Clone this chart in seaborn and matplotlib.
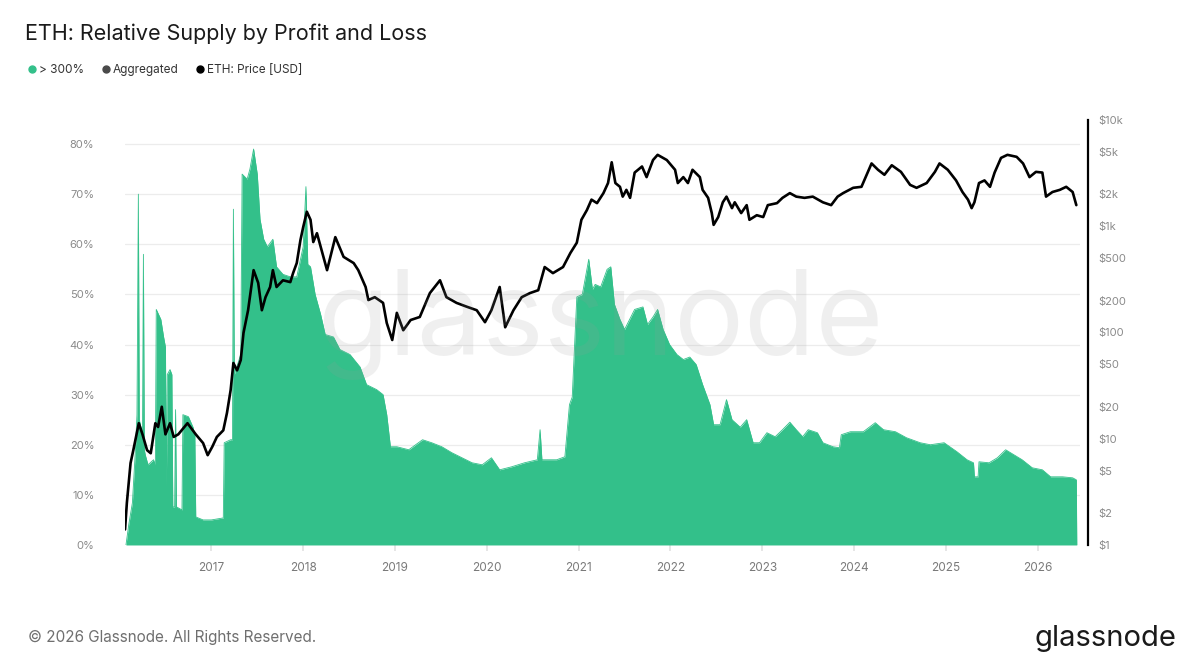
import matplotlib
matplotlib.use("Agg")
import matplotlib.pyplot as plt
import seaborn as sns
import pandas as pd
from matplotlib.lines import Line2D

# share of supply in >300% profit (decimal year, percent)
supply_years = [
    2016.07, 2016.10, 2016.14, 2016.17, 2016.19, 2016.205, 2016.215, 2016.25, 2016.26, 2016.27,
    2016.28, 2016.31, 2016.37, 2016.39, 2016.40, 2016.45, 2016.48, 2016.50, 2016.51, 2016.52,
    2016.55, 2016.57, 2016.58, 2016.60, 2016.61, 2016.62, 2016.68, 2016.69, 2016.75, 2016.80,
    2016.82, 2016.83, 2016.91, 2017.00, 2017.13, 2017.14, 2017.21, 2017.23, 2017.24, 2017.25,
    2017.32, 2017.335, 2017.39, 2017.42, 2017.46, 2017.50, 2017.53, 2017.57, 2017.61, 2017.67,
    2017.71, 2017.78, 2017.86, 2017.93, 2018.00, 2018.03, 2018.05, 2018.08, 2018.13, 2018.19,
    2018.24, 2018.33, 2018.40, 2018.51, 2018.62, 2018.69, 2018.80, 2018.87, 2018.91, 2018.95,
    2019.02, 2019.15, 2019.30, 2019.40, 2019.51, 2019.62, 2019.73, 2019.84, 2019.95, 2020.05,
    2020.14, 2020.27, 2020.41, 2020.55, 2020.58, 2020.60, 2020.76, 2020.85, 2020.90, 2020.93,
    2020.98, 2021.04, 2021.11, 2021.15, 2021.18, 2021.24, 2021.31, 2021.35, 2021.39, 2021.45,
    2021.50, 2021.61, 2021.70, 2021.75, 2021.81, 2021.86, 2021.92, 2021.99, 2022.07, 2022.14,
    2022.21, 2022.28, 2022.35, 2022.43, 2022.47, 2022.54, 2022.61, 2022.67, 2022.76, 2022.83,
    2022.90, 2022.97, 2023.05, 2023.14, 2023.22, 2023.30, 2023.37, 2023.44, 2023.50, 2023.60,
    2023.66, 2023.77, 2023.84, 2023.86, 2023.96, 2024.10, 2024.23, 2024.32, 2024.45, 2024.57,
    2024.72, 2024.83, 2024.98, 2025.12, 2025.23, 2025.30, 2025.31, 2025.35, 2025.36, 2025.47,
    2025.56, 2025.65, 2025.74, 2025.83, 2025.94, 2026.05, 2026.14, 2026.27, 2026.38, 2026.42,
    2026.425,
]
supply_pct = [
    0, 4, 8.4, 18, 26, 70, 25, 22, 58, 19,
    18, 16, 17, 16, 47, 45, 41.5, 39.5, 11.6, 34,
    35, 34, 7.6, 7.6, 27, 7.6, 7, 26, 25.6, 23.5,
    22, 5.6, 5, 5, 5.4, 20.4, 21, 21, 67, 34,
    38, 74, 73, 75, 79, 74, 65, 61, 59.5, 61,
    55.5, 54, 53.5, 53.5, 59.5, 71.5, 56, 55.5, 50, 46,
    42, 41.5, 39, 38, 35.5, 32, 31, 30, 26, 19.6,
    19.6, 19, 21, 20.4, 19.6, 18.4, 17.4, 16.4, 16, 17.4,
    15, 15.6, 16.4, 17, 23, 17, 17, 17.6, 28, 29.5,
    49.5, 50, 57, 51, 52, 51.5, 55, 55.5, 48, 45,
    43, 47, 47.5, 44, 45.5, 47, 43, 40, 38, 37,
    37.5, 36, 32, 28, 24, 24, 29, 25, 23.5, 25,
    20.4, 20.4, 22.4, 21.6, 23, 24.5, 23, 21.6, 23, 22.4,
    20.4, 19.6, 19.4, 22, 22.6, 22.6, 24.4, 23, 22.6, 21.4,
    20.4, 20, 20.4, 18.6, 17, 16.4, 13.6, 13.6, 16.6, 16.4,
    17.4, 19, 18, 17, 15.4, 15, 13.6, 13.6, 13.4, 13,
    0,
]

# ETH price in USD (decimal year, price)
price_years = [
    2016.06, 2016.08, 2016.12, 2016.15, 2016.21, 2016.25, 2016.30, 2016.34, 2016.39, 2016.42,
    2016.46, 2016.50, 2016.55, 2016.59, 2016.64, 2016.74, 2016.83, 2016.91, 2016.96, 2017.01,
    2017.06, 2017.13, 2017.17, 2017.21, 2017.24, 2017.28, 2017.32, 2017.35, 2017.40, 2017.46,
    2017.51, 2017.55, 2017.59, 2017.64, 2017.67, 2017.71, 2017.78, 2017.86, 2017.89, 2017.93,
    2017.97, 2018.00, 2018.04, 2018.08, 2018.11, 2018.15, 2018.26, 2018.35, 2018.44, 2018.55,
    2018.60, 2018.68, 2018.71, 2018.78, 2018.87, 2018.91, 2018.97, 2019.02, 2019.09, 2019.17,
    2019.27, 2019.38, 2019.49, 2019.56, 2019.67, 2019.78, 2019.89, 2019.98, 2020.05, 2020.14,
    2020.20, 2020.29, 2020.38, 2020.47, 2020.56, 2020.63, 2020.72, 2020.83, 2020.91, 2020.98,
    2021.03, 2021.09, 2021.14, 2021.20, 2021.27, 2021.32, 2021.36, 2021.40, 2021.45, 2021.48,
    2021.52, 2021.56, 2021.61, 2021.69, 2021.74, 2021.81, 2021.86, 2021.96, 2022.05, 2022.08,
    2022.14, 2022.19, 2022.24, 2022.32, 2022.35, 2022.41, 2022.45, 2022.47, 2022.52, 2022.57,
    2022.61, 2022.67, 2022.70, 2022.77, 2022.83, 2022.86, 2022.94, 2023.01, 2023.06, 2023.16,
    2023.22, 2023.30, 2023.37, 2023.46, 2023.55, 2023.66, 2023.75, 2023.82, 2023.88, 2023.99,
    2024.08, 2024.19, 2024.26, 2024.33, 2024.41, 2024.51, 2024.61, 2024.68, 2024.79, 2024.88,
    2024.93, 2025.02, 2025.11, 2025.18, 2025.24, 2025.28, 2025.31, 2025.36, 2025.42, 2025.48,
    2025.53, 2025.60, 2025.67, 2025.77, 2025.84, 2025.91, 2025.98, 2026.05, 2026.09, 2026.16,
    2026.24, 2026.31, 2026.38, 2026.42,
]
price_usd = [
    1.4, 2.5, 5.9, 7.8, 14, 11, 7.8, 7.3, 14, 12.9,
    20, 11, 14, 10.4, 11, 14, 11, 9.1, 7.0, 8.4,
    10.4, 12, 17.5, 28.7, 51.6, 44, 55, 99, 162, 386,
    293, 162, 215, 268, 386, 268, 310, 298, 362, 450,
    740, 980, 1370, 1150, 710, 860, 386, 790, 515, 450,
    386, 268, 202, 215, 190, 123, 85, 153, 105, 131,
    140, 235, 310, 215, 190, 175, 162, 125, 162, 268,
    112, 162, 215, 235, 250, 413, 362, 413, 560, 700,
    1150, 1420, 1780, 1650, 2050, 2550, 4000, 2550, 2350, 1900,
    2200, 1850, 3200, 3650, 2900, 4200, 4700, 4200, 3400, 2550,
    2900, 2550, 3400, 2900, 2200, 1850, 1330, 1030, 1220, 1680,
    1900, 1480, 1680, 1330, 1580, 1150, 1270, 1220, 1580, 1650,
    1850, 2050, 1900, 1850, 1900, 1680, 1580, 1900, 2050, 2300,
    2350, 3900, 3400, 3050, 3750, 3250, 2450, 2300, 2550, 3250,
    3900, 3400, 2700, 2100, 1780, 1480, 1680, 2550, 2700, 2350,
    3200, 4400, 4700, 4500, 3900, 2900, 3250, 3200, 1900, 2100,
    2200, 2350, 2100, 1580,
]

year_ticks = list(range(2017, 2027))
pct_ticks = [0, 10, 20, 30, 40, 50, 60, 70, 80]
price_ticks = [1, 2, 5, 10, 20, 50, 100, 200, 500, 1000, 2000, 5000, 10000]
price_tick_labels = ["$1", "$2", "$5", "$10", "$20", "$50", "$100", "$200", "$500",
                     "$1k", "$2k", "$5k", "$10k"]

GREEN = "#33c08a"

sns.set_theme(style="white")
plt.rcParams["font.family"] = ["Inter", "DejaVu Sans"]

supply = pd.DataFrame({"year": supply_years, "pct": supply_pct})
price = pd.DataFrame({"year": price_years, "usd": price_usd})

fig = plt.figure(figsize=(12, 6.7), dpi=100)
ax = fig.add_axes([0.1042, 0.1866, 0.7958, 0.6343])

ax.fill_between(supply["year"], 0, supply["pct"], color=GREEN, linewidth=0, zorder=2)
sns.lineplot(data=supply, x="year", y="pct", ax=ax, color=GREEN, linewidth=0.6, zorder=2)

ax.set_xlim(2016.06, 2026.46)
ax.set_ylim(0, 84.8)
ax.set_yticks(pct_ticks)
ax.set_yticklabels([f"{t}%" for t in pct_ticks])
ax.set_xticks(year_ticks)
ax.set_xticklabels([str(y) for y in year_ticks])
ax.grid(axis="y", color="#ececec", linewidth=0.9)
ax.set_axisbelow(True)
for s in ax.spines.values():
    s.set_visible(False)
ax.tick_params(axis="y", length=0, labelsize=8, labelcolor="#8a8a8a", pad=22)
ax.tick_params(axis="x", length=4, color="#e3e3e3", labelsize=8.5, labelcolor="#7a7a7a", pad=8,
               bottom=True)
ax.set_xlabel("")
ax.set_ylabel("")

ax2 = ax.twinx()
sns.lineplot(data=price, x="year", y="usd", ax=ax2, color="black", linewidth=1.9,
             estimator=None, zorder=5)
ax2.set_yscale("log")
ax2.set_ylim(1, 10000)
ax2.set_yticks(price_ticks)
ax2.set_yticklabels(price_tick_labels)
ax2.minorticks_off()
ax2.set_ylabel("")
ax2.set_xlim(2016.06, 2026.46)
for name, s in ax2.spines.items():
    s.set_visible(name == "right")
ax2.spines["right"].set_position(("outward", 6))
ax2.spines["right"].set_color("black")
ax2.spines["right"].set_linewidth(1.6)
ax2.tick_params(axis="y", length=0, labelsize=8, labelcolor="#8a8a8a", pad=7)

# watermark
fig.text(0.5, 0.515, "glassnode", fontsize=84, color="#9a9a9a", alpha=0.15,
         ha="center", va="center", zorder=10)

fig.text(0.021, 0.95, "ETH: Relative Supply by Profit and Loss", fontsize=15.5,
         color="#1a1a1a", ha="left", va="center")

handles = [
    Line2D([], [], marker="o", linestyle="", markersize=5, color=GREEN),
    Line2D([], [], marker="o", linestyle="", markersize=5, color="#4a4a4a"),
    Line2D([], [], marker="o", linestyle="", markersize=5, color="black"),
]
fig.legend(handles, ["> 300%", "Aggregated", "ETH: Price [USD]"], loc="center left",
           bbox_to_anchor=(0.013, 0.895), ncol=3, frameon=False, fontsize=8.5,
           handletextpad=0.1, columnspacing=1.3, handlelength=1.0, labelcolor="#333333")

fig.text(0.023, 0.049, "\u00a9 2026 Glassnode. All Rights Reserved.", fontsize=11,
         color="#6f6f6f", ha="left", va="center")
fig.text(0.98, 0.047, "glassnode", fontsize=21, color="#1a1a1a", ha="right", va="center")

fig.savefig("out.png", dpi=100, facecolor="white")
